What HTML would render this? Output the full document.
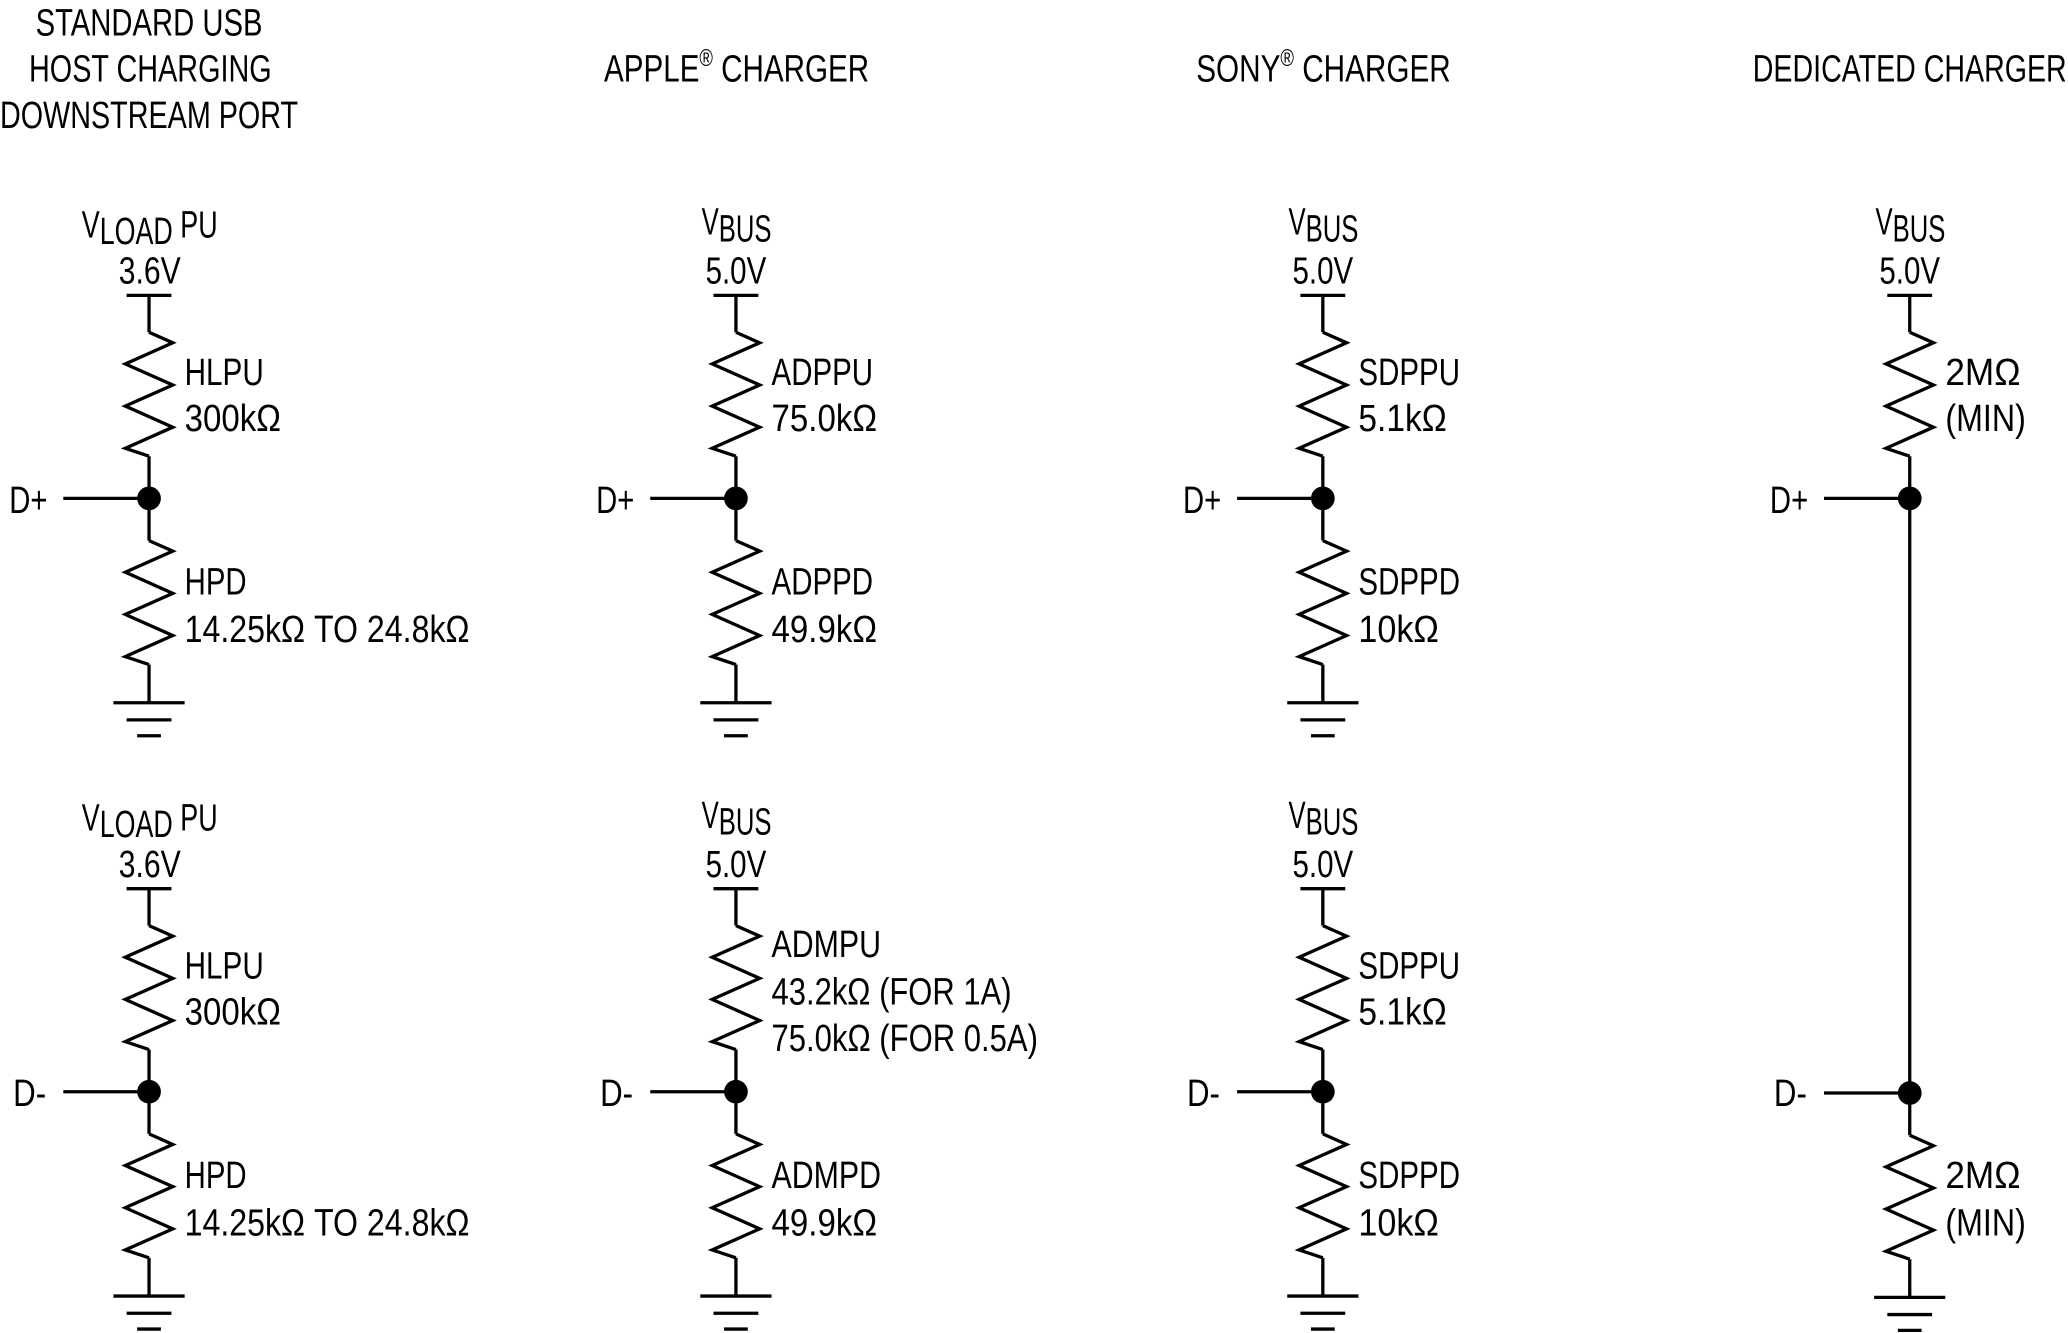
<!DOCTYPE html>
<html><head><meta charset="utf-8"><style>
html,body{margin:0;padding:0;background:#fff;}
svg{display:block;}
text{font-family:"Liberation Sans Narrow","Liberation Sans",sans-serif;font-size:29px;fill:#000;}
</style></head><body>
<svg width="2068" height="1333" viewBox="0 0 1568 1011" preserveAspectRatio="none" xmlns="http://www.w3.org/2000/svg">
<defs>
<path id="r" d="M0,0 l18,8 l-36,16 l36,16 l-36,16 l36,16 l-36,16 l18,6" fill="none" stroke="#000" stroke-width="2.5" stroke-linejoin="miter"/>
<g id="g" stroke="#000" stroke-width="2.5"><line x1="-27" y1="0" x2="27" y2="0"/><line x1="-17" y1="13" x2="17" y2="13"/><line x1="-9" y1="25" x2="9" y2="25"/></g>
<g id="half" stroke="#000" stroke-width="2.5" fill="none">
<line x1="-17" y1="0" x2="17" y2="0"/>
<line x1="0" y1="0" x2="0" y2="28"/>
<use href="#r" x="0" y="28"/>
<line x1="0" y1="122" x2="0" y2="186"/>
<line x1="-65" y1="154" x2="0" y2="154"/>
<circle cx="0" cy="154" r="9" fill="#000" stroke="none"/>
<use href="#r" x="0" y="186"/>
<line x1="0" y1="280" x2="0" y2="309"/>
<use href="#g" x="0" y="309"/>
</g>
</defs>

<g lengthAdjust="spacingAndGlyphs">
<!-- titles -->
<text x="113" y="27" text-anchor="middle" textLength="172" lengthAdjust="spacingAndGlyphs">STANDARD USB</text>
<text x="114" y="62" text-anchor="middle" textLength="184" lengthAdjust="spacingAndGlyphs">HOST CHARGING</text>
<text x="113" y="97" text-anchor="middle" textLength="226" lengthAdjust="spacingAndGlyphs">DOWNSTREAM PORT</text>
<text x="458" y="62" textLength="201" lengthAdjust="spacingAndGlyphs">APPLE<tspan font-size="18" dy="-12">®</tspan><tspan dy="12"> CHARGER</tspan></text>
<text x="907" y="62" textLength="193" lengthAdjust="spacingAndGlyphs">SONY<tspan font-size="18" dy="-12">®</tspan><tspan dy="12"> CHARGER</tspan></text>
<text x="1329" y="62" textLength="238" lengthAdjust="spacingAndGlyphs">DEDICATED CHARGER</text>
</g>

<!-- circuits -->
<use href="#half" x="113" y="224"/>
<use href="#half" x="113" y="674"/>
<use href="#half" x="558" y="224"/>
<use href="#half" x="558" y="674"/>
<use href="#half" x="1003" y="224"/>
<use href="#half" x="1003" y="674"/>

<g stroke="#000" stroke-width="2.5" fill="none">
<line x1="1431" y1="224" x2="1465" y2="224"/>
<line x1="1448" y1="224" x2="1448" y2="252"/>
<use href="#r" x="1448" y="252"/>
<line x1="1448" y1="346" x2="1448" y2="861"/>
<line x1="1383" y1="378" x2="1448" y2="378"/>
<line x1="1383" y1="829" x2="1448" y2="829"/>
<circle cx="1448" cy="378" r="9" fill="#000" stroke="none"/>
<circle cx="1448" cy="829" r="9" fill="#000" stroke="none"/>
<use href="#r" x="1448" y="861"/>
<line x1="1448" y1="955" x2="1448" y2="984"/>
<use href="#g" x="1448" y="984"/>
</g>

<!-- supply labels -->
<text x="62" y="180" textLength="103" lengthAdjust="spacingAndGlyphs">V<tspan dy="5">LOAD</tspan><tspan dy="-5"> PU</tspan></text>
<text x="90" y="215" textLength="47" lengthAdjust="spacingAndGlyphs">3.6V</text>
<text x="62" y="630" textLength="103" lengthAdjust="spacingAndGlyphs">V<tspan dy="5">LOAD</tspan><tspan dy="-5"> PU</tspan></text>
<text x="90" y="665" textLength="47" lengthAdjust="spacingAndGlyphs">3.6V</text>
<text x="532" y="178" textLength="53" lengthAdjust="spacingAndGlyphs">V<tspan dy="5">BUS</tspan></text>
<text x="535" y="215" textLength="46" lengthAdjust="spacingAndGlyphs">5.0V</text>
<text x="532" y="628" textLength="53" lengthAdjust="spacingAndGlyphs">V<tspan dy="5">BUS</tspan></text>
<text x="535" y="665" textLength="46" lengthAdjust="spacingAndGlyphs">5.0V</text>
<text x="977" y="178" textLength="53" lengthAdjust="spacingAndGlyphs">V<tspan dy="5">BUS</tspan></text>
<text x="980" y="215" textLength="46" lengthAdjust="spacingAndGlyphs">5.0V</text>
<text x="977" y="628" textLength="53" lengthAdjust="spacingAndGlyphs">V<tspan dy="5">BUS</tspan></text>
<text x="980" y="665" textLength="46" lengthAdjust="spacingAndGlyphs">5.0V</text>
<text x="1422" y="178" textLength="53" lengthAdjust="spacingAndGlyphs">V<tspan dy="5">BUS</tspan></text>
<text x="1425" y="215" textLength="46" lengthAdjust="spacingAndGlyphs">5.0V</text>

<!-- D labels -->
<text x="7" y="389" textLength="29" lengthAdjust="spacingAndGlyphs">D+</text>
<text x="452" y="389" textLength="29" lengthAdjust="spacingAndGlyphs">D+</text>
<text x="897" y="389" textLength="29" lengthAdjust="spacingAndGlyphs">D+</text>
<text x="1342" y="389" textLength="29" lengthAdjust="spacingAndGlyphs">D+</text>
<text x="10" y="839" textLength="25" lengthAdjust="spacingAndGlyphs">D-</text>
<text x="455" y="839" textLength="25" lengthAdjust="spacingAndGlyphs">D-</text>
<text x="900" y="839" textLength="25" lengthAdjust="spacingAndGlyphs">D-</text>
<text x="1345" y="839" textLength="25" lengthAdjust="spacingAndGlyphs">D-</text>

<!-- col1 -->
<text x="140" y="292" textLength="60" lengthAdjust="spacingAndGlyphs">HLPU</text>
<text x="140" y="327" textLength="73" lengthAdjust="spacingAndGlyphs">300kΩ</text>
<text x="140" y="451" textLength="47" lengthAdjust="spacingAndGlyphs">HPD</text>
<text x="140" y="487" textLength="216" lengthAdjust="spacingAndGlyphs">14.25kΩ TO 24.8kΩ</text>
<text x="140" y="742" textLength="60" lengthAdjust="spacingAndGlyphs">HLPU</text>
<text x="140" y="777" textLength="73" lengthAdjust="spacingAndGlyphs">300kΩ</text>
<text x="140" y="901" textLength="47" lengthAdjust="spacingAndGlyphs">HPD</text>
<text x="140" y="937" textLength="216" lengthAdjust="spacingAndGlyphs">14.25kΩ TO 24.8kΩ</text>
<!-- col2 -->
<text x="585" y="292" textLength="77" lengthAdjust="spacingAndGlyphs">ADPPU</text>
<text x="585" y="327" textLength="80" lengthAdjust="spacingAndGlyphs">75.0kΩ</text>
<text x="585" y="451" textLength="77" lengthAdjust="spacingAndGlyphs">ADPPD</text>
<text x="585" y="487" textLength="80" lengthAdjust="spacingAndGlyphs">49.9kΩ</text>
<text x="585" y="726" textLength="83" lengthAdjust="spacingAndGlyphs">ADMPU</text>
<text x="585" y="762" textLength="182" lengthAdjust="spacingAndGlyphs">43.2kΩ (FOR 1A)</text>
<text x="585" y="797" textLength="202" lengthAdjust="spacingAndGlyphs">75.0kΩ (FOR 0.5A)</text>
<text x="585" y="901" textLength="83" lengthAdjust="spacingAndGlyphs">ADMPD</text>
<text x="585" y="937" textLength="80" lengthAdjust="spacingAndGlyphs">49.9kΩ</text>
<!-- col3 -->
<text x="1030" y="292" textLength="77" lengthAdjust="spacingAndGlyphs">SDPPU</text>
<text x="1030" y="327" textLength="67" lengthAdjust="spacingAndGlyphs">5.1kΩ</text>
<text x="1030" y="451" textLength="77" lengthAdjust="spacingAndGlyphs">SDPPD</text>
<text x="1030" y="487" textLength="61" lengthAdjust="spacingAndGlyphs">10kΩ</text>
<text x="1030" y="742" textLength="77" lengthAdjust="spacingAndGlyphs">SDPPU</text>
<text x="1030" y="777" textLength="67" lengthAdjust="spacingAndGlyphs">5.1kΩ</text>
<text x="1030" y="901" textLength="77" lengthAdjust="spacingAndGlyphs">SDPPD</text>
<text x="1030" y="937" textLength="61" lengthAdjust="spacingAndGlyphs">10kΩ</text>
<!-- col4 -->
<text x="1475" y="292" textLength="57" lengthAdjust="spacingAndGlyphs">2MΩ</text>
<text x="1475" y="327" textLength="61" lengthAdjust="spacingAndGlyphs">(MIN)</text>
<text x="1475" y="901" textLength="57" lengthAdjust="spacingAndGlyphs">2MΩ</text>
<text x="1475" y="937" textLength="61" lengthAdjust="spacingAndGlyphs">(MIN)</text>
</svg>
</body></html>
